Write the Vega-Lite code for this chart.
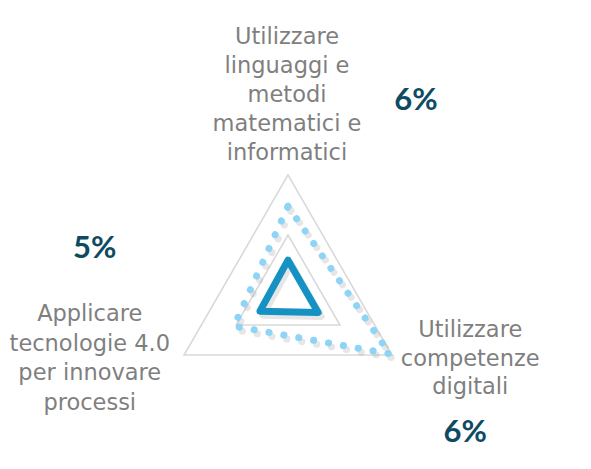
{
  "$schema": "https://vega.github.io/schema/vega-lite/v6.json",
  "width": 591,
  "height": 469,
  "padding": 0,
  "autosize": {"type": "none"},
  "background": "white",
  "config": {"view": {"stroke": null}},
  "datasets": {
    "axes": [
      {"axis": "Utilizzare linguaggi e metodi matematici e informatici", "label": ["Utilizzare", "linguaggi e", "metodi", "matematici e", "informatici"], "pct": "6%", "angle": 0},
      {"axis": "Utilizzare competenze digitali", "label": ["Utilizzare", "competenze", "digitali"], "pct": "6%", "angle": 120},
      {"axis": "Applicare tecnologie 4.0 per innovare processi", "label": ["Applicare", "tecnologie 4.0", "per innovare", "processi"], "pct": "5%", "angle": 240}
    ],
    "grid": [
      {"level": 0.5, "angle": 0}, {"level": 0.5, "angle": 120}, {"level": 0.5, "angle": 240},
      {"level": 1, "angle": 0}, {"level": 1, "angle": 120}, {"level": 1, "angle": 240}
    ],
    "series": [
      {"series": "dotted", "angle": 0, "value": 0.74},
      {"series": "dotted", "angle": 120, "value": 0.98},
      {"series": "dotted", "angle": 240, "value": 0.52},
      {"series": "solid", "angle": 0, "value": 0.29},
      {"series": "solid", "angle": 120, "value": 0.29},
      {"series": "solid", "angle": 240, "value": 0.27}
    ]
  },
  "encoding": {
    "x": {"field": "px", "type": "quantitative", "scale": {"domain": [-2.4, 2.525], "nice": false, "zero": false}, "axis": null},
    "y": {"field": "py", "type": "quantitative", "scale": {"domain": [-1.45, 2.458], "nice": false, "zero": false}, "axis": null}
  },
  "layer": [
    {
      "data": {"name": "grid"},
      "transform": [
        {"calculate": "datum.level * sin(datum.angle * PI / 180)", "as": "px"},
        {"calculate": "datum.level * cos(datum.angle * PI / 180)", "as": "py"}
      ],
      "mark": {"type": "line", "interpolate": "linear-closed", "color": "#d9d9d9", "strokeWidth": 1.6},
      "encoding": {"detail": {"field": "level"}, "order": {"field": "angle"}}
    },
    {
      "data": {"name": "series"},
      "transform": [
        {"filter": "datum.series == 'dotted'"},
        {"calculate": "datum.value * sin(datum.angle * PI / 180)", "as": "px"},
        {"calculate": "datum.value * cos(datum.angle * PI / 180)", "as": "py"}
      ],
      "mark": {"type": "line", "interpolate": "linear-closed", "color": "#9a9a9a", "opacity": 0.25, "strokeWidth": 7, "strokeDash": [0.1, 15], "strokeCap": "round", "xOffset": 3, "yOffset": 4},
      "encoding": {"order": {"field": "angle"}}
    },
    {
      "data": {"name": "series"},
      "transform": [
        {"filter": "datum.series == 'solid'"},
        {"calculate": "datum.value * sin(datum.angle * PI / 180)", "as": "px"},
        {"calculate": "datum.value * cos(datum.angle * PI / 180)", "as": "py"}
      ],
      "mark": {"type": "line", "interpolate": "linear-closed", "color": "#9a9a9a", "opacity": 0.25, "strokeWidth": 7, "strokeJoin": "round", "xOffset": 3, "yOffset": 4},
      "encoding": {"order": {"field": "angle"}}
    },
    {
      "data": {"name": "series"},
      "transform": [
        {"filter": "datum.series == 'dotted'"},
        {"calculate": "datum.value * sin(datum.angle * PI / 180)", "as": "px"},
        {"calculate": "datum.value * cos(datum.angle * PI / 180)", "as": "py"}
      ],
      "mark": {"type": "line", "interpolate": "linear-closed", "color": "#8dd4f7", "strokeWidth": 7, "strokeDash": [0.1, 15], "strokeCap": "round"},
      "encoding": {"order": {"field": "angle"}}
    },
    {
      "data": {"name": "series"},
      "transform": [
        {"filter": "datum.series == 'solid'"},
        {"calculate": "datum.value * sin(datum.angle * PI / 180)", "as": "px"},
        {"calculate": "datum.value * cos(datum.angle * PI / 180)", "as": "py"}
      ],
      "mark": {"type": "line", "interpolate": "linear-closed", "color": "#1591c3", "strokeWidth": 7, "strokeJoin": "round"},
      "encoding": {"order": {"field": "angle"}}
    },
    {
      "data": {"name": "axes"},
      "transform": [
        {"filter": "datum.angle == 0"},
        {"calculate": "1.667 * sin(datum.angle * PI / 180)", "as": "px"},
        {"calculate": "1.667 * cos(datum.angle * PI / 180)", "as": "py"}
      ],
      "mark": {"type": "text", "font": "DejaVu Sans", "fontSize": 22.5, "lineHeight": 29, "color": "#7f7f7f", "align": "center", "baseline": "middle", "dx": -1, "dy": -58},
      "encoding": {"text": {"field": "label"}}
    },
    {
      "data": {"name": "axes"},
      "transform": [
        {"filter": "datum.angle == 120"},
        {"calculate": "1.667 * sin(datum.angle * PI / 180)", "as": "px"},
        {"calculate": "1.667 * cos(datum.angle * PI / 180)", "as": "py"}
      ],
      "mark": {"type": "text", "font": "DejaVu Sans", "fontSize": 22.5, "lineHeight": 28.5, "color": "#7f7f7f", "align": "center", "baseline": "middle", "dx": 9, "dy": -65},
      "encoding": {"text": {"field": "label"}}
    },
    {
      "data": {"name": "axes"},
      "transform": [
        {"filter": "datum.angle == 240"},
        {"calculate": "1.667 * sin(datum.angle * PI / 180)", "as": "px"},
        {"calculate": "1.667 * cos(datum.angle * PI / 180)", "as": "py"}
      ],
      "mark": {"type": "text", "font": "DejaVu Sans", "fontSize": 22.5, "lineHeight": 29.5, "color": "#7f7f7f", "align": "center", "baseline": "middle", "dx": -25, "dy": -81},
      "encoding": {"text": {"field": "label"}}
    },
    {
      "data": {"name": "axes"},
      "transform": [
        {"filter": "datum.angle == 0"},
        {"calculate": "1.667 * sin(datum.angle * PI / 180)", "as": "px"},
        {"calculate": "1.667 * cos(datum.angle * PI / 180)", "as": "py"}
      ],
      "mark": {"type": "text", "font": "Lato", "fontSize": 31, "fontWeight": "bold", "color": "#0d4b63", "align": "center", "baseline": "middle", "dx": 128, "dy": 6},
      "encoding": {"text": {"field": "pct"}}
    },
    {
      "data": {"name": "axes"},
      "transform": [
        {"filter": "datum.angle == 120"},
        {"calculate": "1.667 * sin(datum.angle * PI / 180)", "as": "px"},
        {"calculate": "1.667 * cos(datum.angle * PI / 180)", "as": "py"}
      ],
      "mark": {"type": "text", "font": "Lato", "fontSize": 31, "fontWeight": "bold", "color": "#0d4b63", "align": "center", "baseline": "middle", "dx": 4, "dy": 38},
      "encoding": {"text": {"field": "pct"}}
    },
    {
      "data": {"name": "axes"},
      "transform": [
        {"filter": "datum.angle == 240"},
        {"calculate": "1.667 * sin(datum.angle * PI / 180)", "as": "px"},
        {"calculate": "1.667 * cos(datum.angle * PI / 180)", "as": "py"}
      ],
      "mark": {"type": "text", "font": "Lato", "fontSize": 31, "fontWeight": "bold", "color": "#0d4b63", "align": "center", "baseline": "middle", "dx": -20, "dy": -146},
      "encoding": {"text": {"field": "pct"}}
    }
  ]
}
